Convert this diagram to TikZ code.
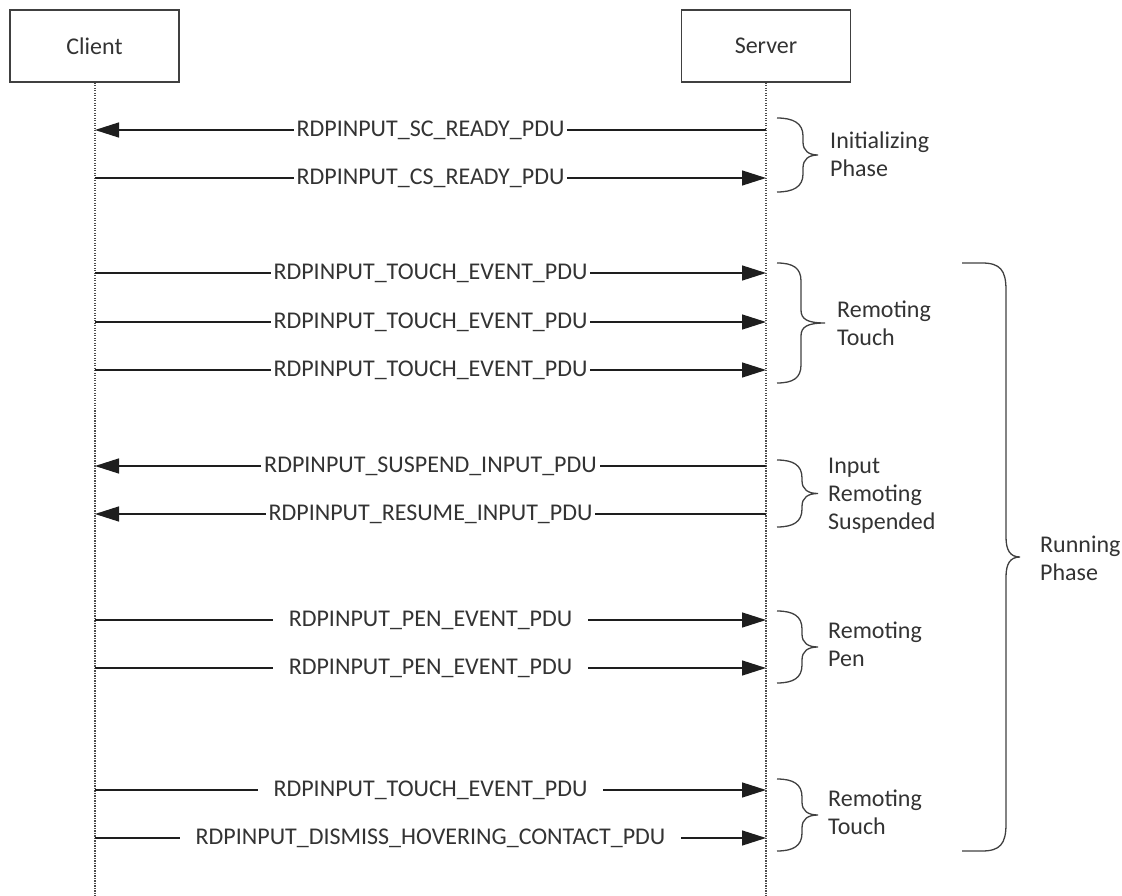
\documentclass[tikz,border=0pt]{standalone}
\usepackage{fontspec}
\setmainfont{Carlito}
\usetikzlibrary{arrows.meta}
\definecolor{txt}{HTML}{333333}
\definecolor{ln}{HTML}{1E1E1E}
\tikzset{
  actor/.style={draw=ln!85, line width=1.6pt, minimum width=169pt, minimum height=72pt, inner sep=0pt, text=txt, font=\fontsize{24}{28}\selectfont},
  life/.style={draw=ln!80, line width=1.2pt, dash pattern=on 1.2pt off 1.3pt},
  msg/.style={draw=ln, line width=1.4pt, -{Triangle[length=24pt,width=15pt]}},
  lab/.style={fill=white, text=txt, inner ysep=2pt, inner xsep=3pt, font=\fontsize{24}{28}\selectfont},
  labw/.style={lab, inner xsep=16pt},
  brc/.style={draw=ln!85, line width=1.3pt},
  note/.style={text=txt, align=left, anchor=west, inner sep=0pt, font=\fontsize{24}{28}\selectfont},
}
\newcommand{\sbrace}[5]{% x0, yt, yb, xv, tip
  \pgfmathsetmacro{\ym}{(#2+#3)/2}
  \draw[brc] (#1,#2) .. controls (#1+16,#2) and (#4,#2+5) .. (#4,#2+18)
    -- (#4,\ym-13) .. controls (#4,\ym-4) and (#4+6,\ym) .. (#5,\ym)
    .. controls (#4+6,\ym) and (#4,\ym+4) .. (#4,\ym+13)
    -- (#4,#3-18) .. controls (#4,#3-5) and (#1+16,#3) .. (#1,#3);
}
\begin{document}
\begin{tikzpicture}[x=1pt,y=-1pt]
\useasboundingbox (0,0) rectangle (1122,896);
\node[actor] (client) at (94.5,46) {Client};
\node[actor] (server) at (766,46) {Server};
\coordinate (cend) at (95,896);
\coordinate (send) at (766,896);
\draw[life] (client.south -| cend) -- (cend);
\draw[life] (server.south -| send) -- (send);
% message coordinates
\foreach \n/\y in {1/130,2/178,3/273,4/322,5/370,6/466,7/514,8/620,9/668,10/790,11/838}{
  \coordinate (c\n) at (95,\y);
  \coordinate (s\n) at (766,\y);
}
\draw[msg] (s1) -- node[lab] {RDPINPUT\_SC\_READY\_PDU} (c1);
\draw[msg] (c2) -- node[lab] {RDPINPUT\_CS\_READY\_PDU} (s2);
\draw[msg] (c3) -- node[lab] {RDPINPUT\_TOUCH\_EVENT\_PDU} (s3);
\draw[msg] (c4) -- node[lab] {RDPINPUT\_TOUCH\_EVENT\_PDU} (s4);
\draw[msg] (c5) -- node[lab] {RDPINPUT\_TOUCH\_EVENT\_PDU} (s5);
\draw[msg] (s6) -- node[lab] {RDPINPUT\_SUSPEND\_INPUT\_PDU} (c6);
\draw[msg] (s7) -- node[lab] {RDPINPUT\_RESUME\_INPUT\_PDU} (c7);
\draw[msg] (c8) -- node[labw] {RDPINPUT\_PEN\_EVENT\_PDU} (s8);
\draw[msg] (c9) -- node[labw] {RDPINPUT\_PEN\_EVENT\_PDU} (s9);
\draw[msg] (c10) -- node[labw] {RDPINPUT\_TOUCH\_EVENT\_PDU} (s10);
\draw[msg] (c11) -- node[labw] {RDPINPUT\_DISMISS\_HOVERING\_CONTACT\_PDU} (s11);
% braces
\sbrace{777}{118}{192}{803}{818}
\sbrace{777}{263}{383}{801}{825}
\sbrace{777}{460}{527}{802}{818}
\sbrace{777}{611}{683}{802}{818}
\sbrace{777}{779}{851}{802}{818}
\draw[brc] (962,263) -- (982,263) .. controls (1000,263) and (1006,270) .. (1006,290)
  -- (1006,537) .. controls (1006,550) and (1010,557) .. (1020,557)
  .. controls (1010,557) and (1006,564) .. (1006,577)
  -- (1006,824) .. controls (1006,844) and (1000,851) .. (982,851) -- (962,851);
% notes
\node[note] (n1) at (830,154) {Initializing\\Phase};
\node[note] (n2) at (837,323) {Remoting\\Touch};
\node[note] (n3) at (828,496) {Input\\Remoting\\Suspended};
\node[note] (n4) at (828,644) {Remoting\\Pen};
\node[note] (n5) at (828,812) {Remoting\\Touch};
\node[note] (n6) at (1040,558) {Running\\Phase};
\end{tikzpicture}
\end{document}
